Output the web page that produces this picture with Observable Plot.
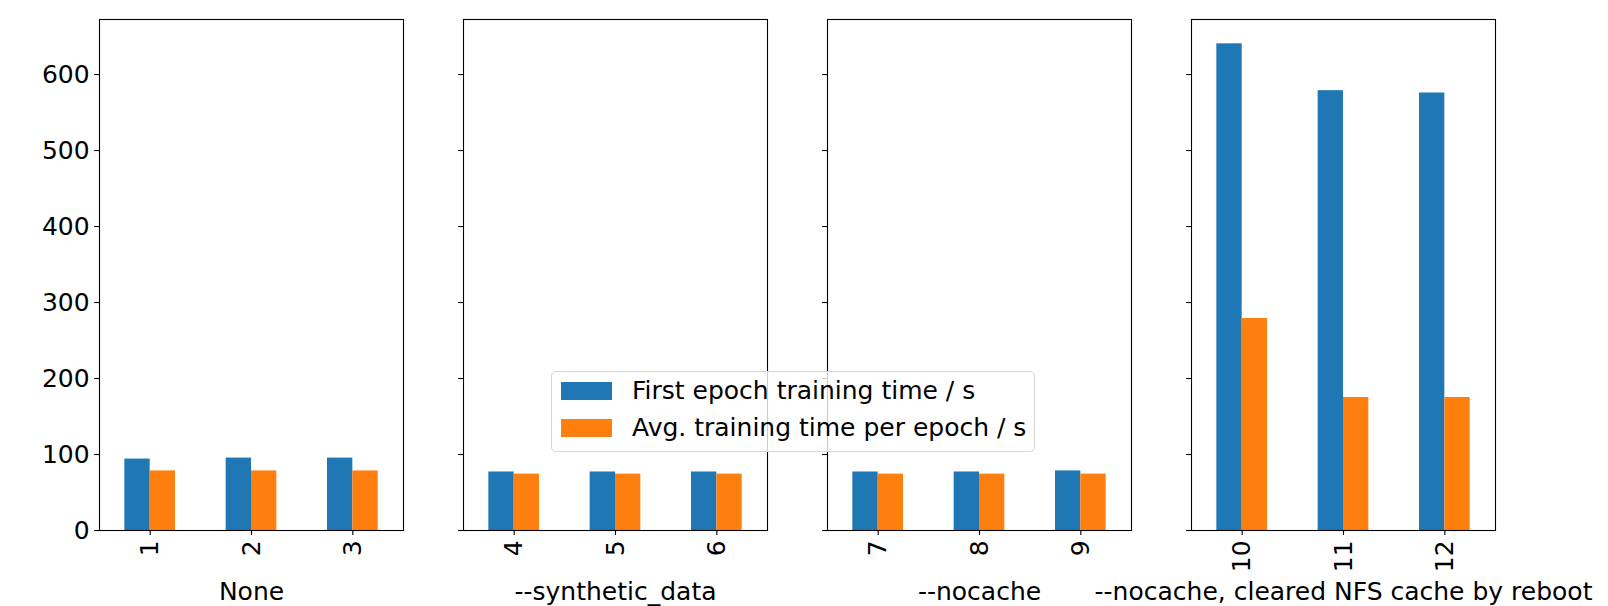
<!DOCTYPE html>
<html>
<head>
<meta charset="utf-8">
<script src="https://cdn.jsdelivr.net/npm/d3@7"></script>
<script src="https://cdn.jsdelivr.net/npm/@observablehq/plot@0.6"></script>
<style>
  body { margin: 0; background: #fff; }
  #chart { position: relative; width: 1608px; height: 606px; font-family: "DejaVu Sans", sans-serif; }
  #chart svg { position: absolute; top: 0; overflow: visible; }
  .legend { position: absolute; left: 551px; top: 371px; width: 484px; height: 81px; box-sizing: border-box;
            border: 1px solid #d6d6d6; border-radius: 5px; background: rgba(255,255,255,0.8); z-index: 10; }
  .legend .sw { position: absolute; left: 9px; width: 51px; height: 18px; }
  .legend .lbl { position: absolute; left: 80px; font-size: 25px; line-height: 25px; color: #000; white-space: nowrap; }
</style>
</head>
<body>
<div id="chart"></div>
<script>
// ---- data ----
const panelLabels = ["None", "--synthetic_data", "--nocache", "--nocache, cleared NFS cache by reboot"];
const runLabels = ["1", "2", "3", "4", "5", "6", "7", "8", "9", "10", "11", "12"];
const runPanel = [0, 0, 0, 1, 1, 1, 2, 2, 2, 3, 3, 3];
const firstEpoch = [94.0, 95.3, 95.3, 77.0, 77.0, 77.0, 77.0, 77.0, 78.4, 640.4, 578.8, 575.7];
const avgEpoch = [78.4, 78.4, 78.4, 74.2, 74.2, 74.2, 74.2, 74.2, 74.2, 279.0, 175.0, 175.0];
const seriesNames = ["First epoch training time / s", "Avg. training time per epoch / s"];
const seriesColors = ["#1f77b4", "#ff7f0e"];
const yTicks = [0, 100, 200, 300, 400, 500, 600];

// ---- build table ----
const barWidth = 0.25;
const yMax = d3.max([...firstEpoch, ...avgEpoch]) * 1.05;
const rows = [];
runLabels.forEach((run, i) => {
  const panel = runPanel[i];
  const slot = runPanel.slice(0, i).filter(p => p === panel).length + 1;
  [firstEpoch[i], avgEpoch[i]].forEach((v, s) => rows.push({
    panel, run, slot, series: seriesNames[s],
    x1: slot - barWidth + s * barWidth, x2: slot + s * barWidth, value: v
  }));
});

const container = document.getElementById("chart");
const marginLeft = 99, marginRight = 10, panelWidth = 304, panelStep = 364;

panelLabels.forEach((label, p) => {
  const data = rows.filter(d => d.panel === p);
  const slots = [...new Set(data.map(d => d.slot))];
  const runOf = s => data.find(d => d.slot === s).run;
  const svg = Plot.plot({
    width: marginLeft + panelWidth + marginRight,
    height: 606,
    marginLeft, marginRight, marginTop: 19, marginBottom: 76,
    style: { background: "transparent", overflow: "visible", fontFamily: "DejaVu Sans", fontSize: "25px", color: "black" },
    x: { type: "linear", domain: [0.5, slots.length + 0.5] },
    y: { domain: [0, yMax] },
    color: { domain: seriesNames, range: seriesColors },
    marks: [
      Plot.rect(data, { x1: "x1", x2: "x2", y1: 0, y2: "value", fill: "series" }),
      Plot.frame({ stroke: "black", strokeWidth: 1.1 }),
      Plot.axisY({ ticks: yTicks, tickSize: 4.9, tickPadding: 5, strokeWidth: 1.1, fontSize: 25, label: null,
                   tickFormat: p === 0 ? d => String(d) : () => "" }),
      Plot.axisX({ ticks: slots, tickFormat: runOf, tickRotate: -90, tickSize: 4.9, tickPadding: 5,
                   strokeWidth: 1.1, fontSize: 25, label: null }),
      Plot.text([label], { frameAnchor: "bottom", dy: 69, lineAnchor: "bottom", fontSize: 25, text: d => d, fill: "black" })
    ]
  });
  svg.style.left = (p * panelStep) + "px";
  container.appendChild(svg);
});

// ---- legend ----
const legend = document.createElement("div");
legend.className = "legend";
seriesNames.forEach((name, i) => {
  const sw = document.createElement("div");
  sw.className = "sw";
  sw.style.top = (10 + i * 37) + "px";
  sw.style.background = seriesColors[i];
  const lb = document.createElement("div");
  lb.className = "lbl";
  lb.style.top = (6 + i * 37) + "px";
  lb.textContent = name;
  legend.appendChild(sw);
  legend.appendChild(lb);
});
container.appendChild(legend);
</script>
</body>
</html>
